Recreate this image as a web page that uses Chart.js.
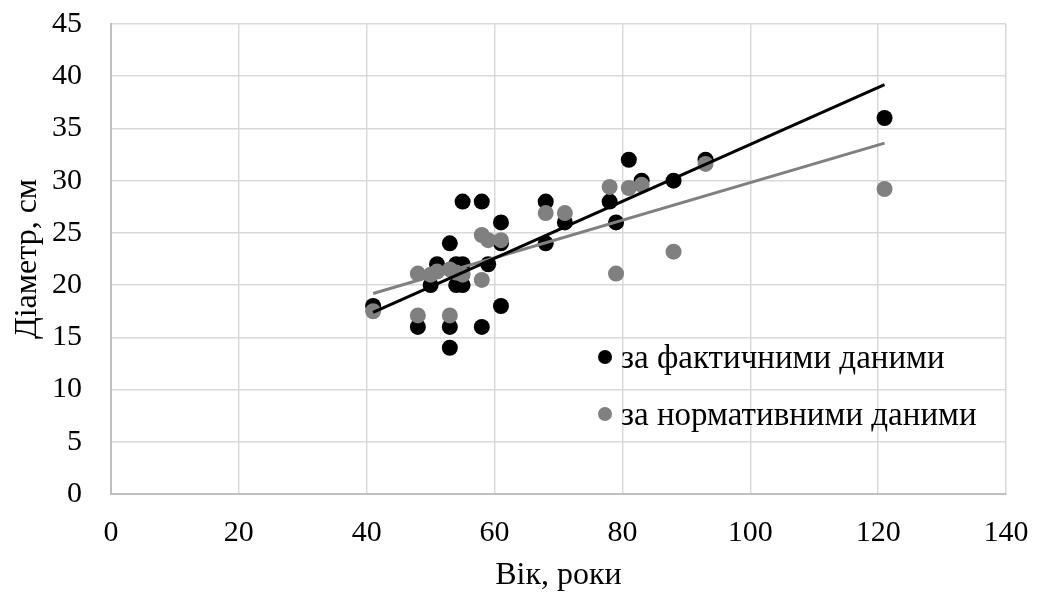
<!DOCTYPE html>
<html>
<head>
<meta charset="utf-8">
<script src="https://cdn.jsdelivr.net/npm/chart.js@4"></script>
<style>
  html, body { margin: 0; padding: 0; background: #fff; }
  #wrap { width: 1041px; height: 595px; }
</style>
</head>
<body>
<div id="wrap"><canvas id="chart" width="1041" height="595"></canvas></div>
<script>
// Вік і діаметр за фактичними даними
const factAge = [41, 48, 50, 51, 53, 53, 53, 54, 54, 55, 55, 55, 58, 58, 59, 61, 61, 61, 68, 68, 71, 78, 79, 81, 83, 88, 93, 121];
const factDiam = [18, 16, 20, 22, 14, 16, 24, 20, 22, 20, 22, 28, 16, 28, 22, 18, 24, 26, 24, 28, 26, 28, 26, 32, 30, 30, 32, 36];

// Вік і діаметр за нормативними даними
const normAge = [41, 48, 48, 50, 51, 53, 53, 54, 55, 58, 58, 59, 61, 68, 71, 78, 79, 81, 83, 88, 93, 121];
const normDiam = [17.5, 17.1, 21.1, 21.0, 21.3, 17.1, 21.5, 21.2, 21.0, 20.5, 24.8, 24.3, 24.3, 26.9, 26.9, 29.4, 21.1, 29.3, 29.6, 23.2, 31.6, 29.2];

// Лінії тренду (кінцеві точки)
const trendAge = [41, 121];
const trendFact = [17.4, 39.2];
const trendNorm = [19.2, 33.6];

const xTicks = [0, 20, 40, 60, 80, 100, 120, 140];
const yTicks = [0, 5, 10, 15, 20, 25, 30, 35, 40, 45];

const serif = "'Liberation Serif', 'Times New Roman', serif";

function toPoints(xs, ys) {
  return xs.map((x, i) => ({ x: x, y: ys[i] }));
}

// Легенда всередині області графіка
const innerLegend = {
  id: "innerLegend",
  afterDraw(chart) {
    const ctx = chart.ctx;
    const items = [
      { label: chart.data.datasets[0].label, color: "#000000", y: 357 },
      { label: chart.data.datasets[1].label, color: "#808080", y: 414 },
    ];
    ctx.save();
    ctx.font = "33px " + serif;
    ctx.textBaseline = "middle";
    items.forEach((it) => {
      ctx.fillStyle = it.color;
      ctx.beginPath();
      ctx.arc(605, it.y, 7, 0, Math.PI * 2);
      ctx.fill();
      ctx.fillStyle = "#000";
      ctx.fillText(it.label, 621, it.y + 2);
    });
    ctx.restore();
  },
};

new Chart(document.getElementById("chart"), {
  type: "scatter",
  data: {
    datasets: [
      {
        label: "за фактичними даними",
        data: toPoints(factAge, factDiam),
        backgroundColor: "#000000",
        borderColor: "#000000",
        pointRadius: 8,
        borderWidth: 0,
        order: 2,
      },
      {
        label: "за нормативними даними",
        data: toPoints(normAge, normDiam),
        backgroundColor: "#808080",
        borderColor: "#808080",
        pointRadius: 8,
        borderWidth: 0,
        order: 1,
      },
      {
        type: "line",
        label: "trend-fact",
        data: toPoints(trendAge, trendFact),
        borderColor: "#000000",
        borderWidth: 3,
        pointRadius: 0,
        order: -1,
      },
      {
        type: "line",
        label: "trend-norm",
        data: toPoints(trendAge, trendNorm),
        borderColor: "#808080",
        borderWidth: 3,
        pointRadius: 0,
        order: 0,
      },
    ],
  },
  options: {
    responsive: false,
    animation: false,
    layout: { padding: { top: 24, right: 35, left: 0, bottom: 0 } },
    scales: {
      x: {
        type: "linear",
        min: 0,
        max: 140,
        afterBuildTicks: (s) => { s.ticks = xTicks.map((v) => ({ value: v })); },
        afterFit: (s) => {
          s.height = 101;
          s.paddingLeft = 0;
          s.paddingRight = 0;
        },
        ticks: { font: { family: serif, size: 30 }, color: "#000", padding: 21 },
        grid: { color: "#d9d9d9", lineWidth: 1.5, drawTicks: false },
        border: { color: "#bfbfbf", width: 2 },
        title: {
          display: true,
          text: "Вік, роки",
          font: { family: serif, size: 32 },
          color: "#000",
          padding: { top: 0, bottom: 0 },
        },
      },
      y: {
        min: 0,
        max: 45,
        afterBuildTicks: (s) => { s.ticks = yTicks.map((v) => ({ value: v })); },
        afterFit: (s) => {
          s.width = 111;
          s.paddingTop = 0;
          s.paddingBottom = 0;
        },
        ticks: { font: { family: serif, size: 30 }, color: "#000", padding: 29 },
        grid: { color: "#d9d9d9", lineWidth: 1.5, drawTicks: false },
        border: { color: "#bfbfbf", width: 2 },
        title: {
          display: true,
          text: "Діаметр, см",
          font: { family: serif, size: 32 },
          color: "#000",
          padding: { top: 8, bottom: 0 },
        },
      },
    },
    plugins: {
      legend: { display: false },
      tooltip: { enabled: false },
    },
  },
  plugins: [innerLegend],
});
</script>
</body>
</html>
